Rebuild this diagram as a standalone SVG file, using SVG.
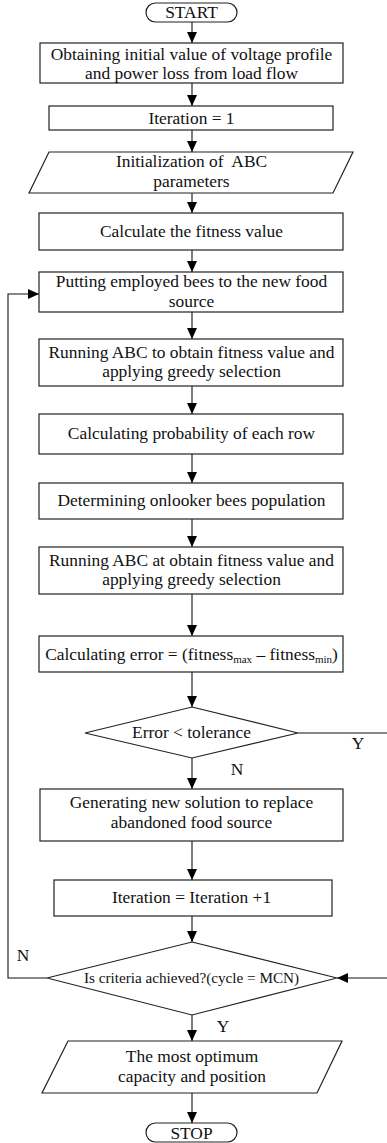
<svg xmlns="http://www.w3.org/2000/svg" width="387" height="1143" viewBox="0 0 387 1143">
<style>
.s{fill:#fff;stroke:#222;stroke-width:1.2}
.t{font-family:"Liberation Serif","Times New Roman","DejaVu Serif",serif;font-size:17.4px;fill:#111;text-anchor:middle}
.sm{font-size:15.2px}
.sub{font-size:11px}
.c{fill:none;stroke:#111;stroke-width:1.1}
</style>
<defs>
<marker id="ah" markerUnits="userSpaceOnUse" markerWidth="12" markerHeight="11" refX="11" refY="5" orient="auto">
<path d="M0,0 L11,5 L0,10 z" fill="#000"/>
</marker>
</defs>
<rect width="387" height="1143" fill="#fff"/>
<g id="connectors">
<path class="c" d="M192,22 V43" marker-end="url(#ah)"/>
<path class="c" d="M192,83 V106" marker-end="url(#ah)"/>
<path class="c" d="M192,130 V152" marker-end="url(#ah)"/>
<path class="c" d="M192,193 V213" marker-end="url(#ah)"/>
<path class="c" d="M192,250 V272" marker-end="url(#ah)"/>
<path class="c" d="M192,312 V339" marker-end="url(#ah)"/>
<path class="c" d="M192,386 V414" marker-end="url(#ah)"/>
<path class="c" d="M192,454 V483" marker-end="url(#ah)"/>
<path class="c" d="M192,519 V547" marker-end="url(#ah)"/>
<path class="c" d="M192,594 V636" marker-end="url(#ah)"/>
<path class="c" d="M192,672 V707" marker-end="url(#ah)"/>
<path class="c" d="M192,758 V789" marker-end="url(#ah)"/>
<path class="c" d="M192,841 V880" marker-end="url(#ah)"/>
<path class="c" d="M192,916 V942" marker-end="url(#ah)"/>
<path class="c" d="M192,1015 V1041" marker-end="url(#ah)"/>
<path class="c" d="M192,1093 V1123" marker-end="url(#ah)"/>
<path class="c" d="M47,978 H8 V294 H39" marker-end="url(#ah)"/>
<path class="c" d="M298,733 H395 V978 H337" marker-end="url(#ah)"/>
<text class="t" x="358" y="749">Y</text>
<text class="t" x="237" y="775">N</text>
<text class="t" x="23" y="961">N</text>
<text class="t" x="223" y="1032">Y</text>
</g>
<g id="start">
<rect class="s" x="146" y="3" width="91" height="19" rx="9.5"/>
<text class="t" x="191.5" y="18">START</text>
</g>
<g id="load-flow">
<rect class="s" x="40" y="43" width="303" height="40"/>
<text class="t" x="191.5" y="60">Obtaining initial value of voltage profile</text>
<text class="t" x="191.5" y="79">and power loss from load flow</text>
</g>
<g id="iteration-1">
<rect class="s" x="49" y="106" width="284" height="24"/>
<text class="t" x="191.5" y="123.5">Iteration = 1</text>
</g>
<g id="init-abc">
<path class="s" d="M49,152 H353 L333,193 H29 Z"/>
<text class="t" x="191.5" y="167" xml:space="preserve">Initialization of  ABC</text>
<text class="t" x="191.5" y="187">parameters</text>
</g>
<g id="fitness">
<rect class="s" x="39" y="213" width="304" height="37"/>
<text class="t" x="191.5" y="237">Calculate the fitness value</text>
</g>
<g id="employed">
<rect class="s" x="39" y="272" width="304" height="40"/>
<text class="t" x="191.5" y="287">Putting employed bees to the new food</text>
<text class="t" x="191.5" y="307">source</text>
</g>
<g id="run-abc-1">
<rect class="s" x="39" y="339" width="304" height="47"/>
<text class="t" x="191.5" y="358">Running ABC to obtain fitness value and</text>
<text class="t" x="191.5" y="377">applying greedy selection</text>
</g>
<g id="probability">
<rect class="s" x="39" y="414" width="304" height="40"/>
<text class="t" x="191.5" y="439">Calculating probability of each row</text>
</g>
<g id="onlooker">
<rect class="s" x="39" y="483" width="304" height="36"/>
<text class="t" x="191.5" y="506">Determining onlooker bees population</text>
</g>
<g id="run-abc-2">
<rect class="s" x="39" y="547" width="304" height="47"/>
<text class="t" x="191.5" y="566">Running ABC at obtain fitness value and</text>
<text class="t" x="191.5" y="585">applying greedy selection</text>
</g>
<g id="error">
<rect class="s" x="39" y="636" width="304" height="36"/>
<text class="t" x="191.5" y="660">Calculating error = (fitness<tspan class="sub" dy="3">max</tspan><tspan dy="-3"> – fitness</tspan><tspan class="sub" dy="3">min</tspan><tspan dy="-3">)</tspan></text>
</g>
<g id="tolerance">
<path class="s" d="M192,707 L298,733 L192,758 L85,733 Z"/>
<text class="t" x="191.5" y="738">Error &lt; tolerance</text>
</g>
<g id="new-solution">
<rect class="s" x="40" y="789" width="303" height="52"/>
<text class="t" x="191.5" y="808">Generating new solution to replace</text>
<text class="t" x="191.5" y="828">abandoned food source</text>
</g>
<g id="iteration-inc">
<rect class="s" x="54" y="880" width="278" height="36"/>
<text class="t" x="191.5" y="903">Iteration = Iteration +1</text>
</g>
<g id="criteria">
<path class="s" d="M192,942 L337,978 L192,1015 L47,978 Z"/>
<text class="t sm" x="191.5" y="983">Is criteria achieved?(cycle = MCN)</text>
</g>
<g id="optimum">
<path class="s" d="M68,1041 H342 L317,1093 H42 Z"/>
<text class="t" x="192" y="1062">The most optimum</text>
<text class="t" x="192" y="1082">capacity and position</text>
</g>
<g id="stop">
<rect class="s" x="146" y="1123" width="91" height="19" rx="9.5"/>
<text class="t" x="191.5" y="1139">STOP</text>
</g>
</svg>
